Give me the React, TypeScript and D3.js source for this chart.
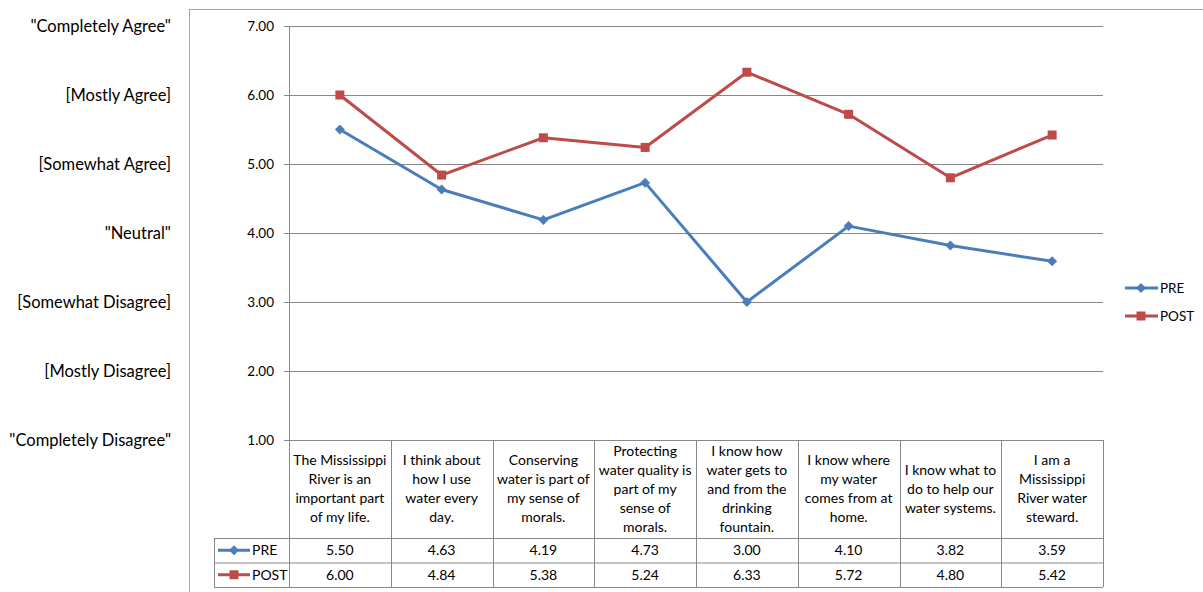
import * as d3 from 'd3';

const categories = [
  ['The Mississippi', 'River is an', 'important part', 'of my life.'],
  ['I think about', 'how I use', 'water every', 'day.'],
  ['Conserving', 'water is part of', 'my sense of', 'morals.'],
  ['Protecting', 'water quality is', 'part of my', 'sense of', 'morals.'],
  ['I know how', 'water gets to', 'and from the', 'drinking', 'fountain.'],
  ['I know where', 'my water', 'comes from at', 'home.'],
  ['I know what to', 'do to help our', 'water systems.'],
  ['I am a', 'Mississippi', 'River water', 'steward.'],
];
const pre = [5.5, 4.63, 4.19, 4.73, 3.0, 4.1, 3.82, 3.59];
const post = [6.0, 4.84, 5.38, 5.24, 6.33, 5.72, 4.8, 5.42];
const yTicks = [1, 2, 3, 4, 5, 6, 7];
const scaleLabels = [
  '"Completely Disagree"',
  '[Mostly Disagree]',
  '[Somewhat Disagree]',
  '"Neutral"',
  '[Somewhat Agree]',
  '[Mostly Agree]',
  '"Completely Agree"',
];

const series = [
  { name: 'PRE', values: pre, color: '#4A7EBB', marker: 'diamond' },
  { name: 'POST', values: post, color: '#BE4B48', marker: 'square' },
];

const font = 'Lato, "Open Sans", sans-serif';
const grid = '#878787';

const Marker = ({ kind, x, y, color }: { kind: string; x: number; y: number; color: string }) =>
  kind === 'diamond' ? (
    <path d={`M${x},${y - 5}L${x + 5},${y}L${x},${y + 5}L${x - 5},${y}Z`} fill={color} />
  ) : (
    <rect x={x - 4.5} y={y - 4.5} width={9} height={9} fill={color} />
  );

const App = () => {
  const left = 289;
  const right = 1103;
  const y = d3.scaleLinear().domain([1, 7]).range([440, 26]);
  const x = d3.scaleBand<number>().domain(d3.range(categories.length)).range([left, right]);
  const bw = x.bandwidth();
  const cx = (i: number) => (x(i) as number) + bw / 2;
  const line = d3
    .line<number>()
    .x((_, i) => cx(i))
    .y((d) => y(d));

  const headTop = y(1);
  const headBottom = 538;
  const rowH = 24.5;
  const tableLeft = 214;

  return (
    <svg width={1203} height={592} style={{ position: 'absolute', left: 0, top: 0, fontFamily: font }}>
      <rect x={0} y={0} width={1203} height={592} fill="#fff" />
      <rect x={189.5} y={9.5} width={1100} height={700} fill="none" stroke="#a6a6a6" />

      {/* scale labels */}
      {yTicks.map((t, i) => (
        <text key={'s' + t} x={171} y={y(t)} dy="0.35em" textAnchor="end" fontSize={16.5} fill="#000">
          {scaleLabels[i]}
        </text>
      ))}

      {/* gridlines and ticks */}
      {yTicks.map((t) => (
        <g key={'g' + t}>
          {t > 1 && <line x1={left} x2={right} y1={y(t) + 0.5} y2={y(t) + 0.5} stroke={grid} />}
          <line x1={left - 5} x2={left} y1={y(t) + 0.5} y2={y(t) + 0.5} stroke={grid} />
          <text x={274} y={y(t)} dy="0.35em" textAnchor="end" fontSize={13.5} fill="#000">
            {t.toFixed(2)}
          </text>
        </g>
      ))}
      <line x1={left + 0.5} x2={left + 0.5} y1={y(7)} y2={headTop} stroke={grid} />

      {/* table */}
      <g stroke={grid} fill="none">
        <line x1={left} x2={right} y1={headTop + 0.5} y2={headTop + 0.5} />
        <line x1={tableLeft} x2={right} y1={headBottom + 0.5} y2={headBottom + 0.5} />
        <line x1={tableLeft} x2={right} y1={headBottom + rowH + 0.5} y2={headBottom + rowH + 0.5} />
        <line x1={tableLeft} x2={right} y1={headBottom + 2 * rowH + 0.5} y2={headBottom + 2 * rowH + 0.5} />
        <line x1={tableLeft + 0.5} x2={tableLeft + 0.5} y1={headBottom} y2={headBottom + 2 * rowH} />
        {categories.map((_, i) => (
          <line
            key={'v' + i}
            x1={Math.round(x(i) as number) + 0.5}
            x2={Math.round(x(i) as number) + 0.5}
            y1={headTop}
            y2={headBottom + 2 * rowH}
          />
        ))}
        <line x1={right + 0.5} x2={right + 0.5} y1={headTop} y2={headBottom + 2 * rowH} />
      </g>

      {categories.map((lines, i) => {
        const mid = (headTop + headBottom) / 2;
        const lh = 19;
        const start = mid - ((lines.length - 1) * lh) / 2;
        return (
          <text key={'c' + i} textAnchor="middle" fontSize={14} fill="#000">
            {lines.map((l, j) => (
              <tspan key={j} x={cx(i)} y={start + j * lh} dy="0.35em">
                {l}
              </tspan>
            ))}
          </text>
        );
      })}

      {series.map((s, si) => {
        const ry = headBottom + rowH * si + rowH / 2;
        return (
          <g key={'r' + s.name}>
            <line x1={218} x2={250} y1={ry} y2={ry} stroke={s.color} strokeWidth={3} />
            <Marker kind={s.marker} x={234} y={ry} color={s.color} />
            <text x={252} y={ry} dy="0.35em" fontSize={14} fill="#000">
              {s.name}
            </text>
            {s.values.map((v, i) => (
              <text key={i} x={cx(i)} y={ry} dy="0.35em" textAnchor="middle" fontSize={14} fill="#000">
                {v.toFixed(2)}
              </text>
            ))}
          </g>
        );
      })}

      {/* series lines */}
      {series.map((s) => (
        <g key={'l' + s.name}>
          <path d={line(s.values) as string} fill="none" stroke={s.color} strokeWidth={3} strokeLinejoin="round" />
          {s.values.map((v, i) => (
            <Marker key={i} kind={s.marker} x={cx(i)} y={y(v)} color={s.color} />
          ))}
        </g>
      ))}

      {/* legend */}
      {series.map((s, si) => {
        const ly = 288 + si * 28;
        return (
          <g key={'lg' + s.name}>
            <line x1={1125} x2={1158} y1={ly} y2={ly} stroke={s.color} strokeWidth={3} />
            <Marker kind={s.marker} x={1141} y={ly} color={s.color} />
            <text x={1160} y={ly} dy="0.35em" fontSize={13.5} fill="#000">
              {s.name}
            </text>
          </g>
        );
      })}
    </svg>
  );
};

export default App;
